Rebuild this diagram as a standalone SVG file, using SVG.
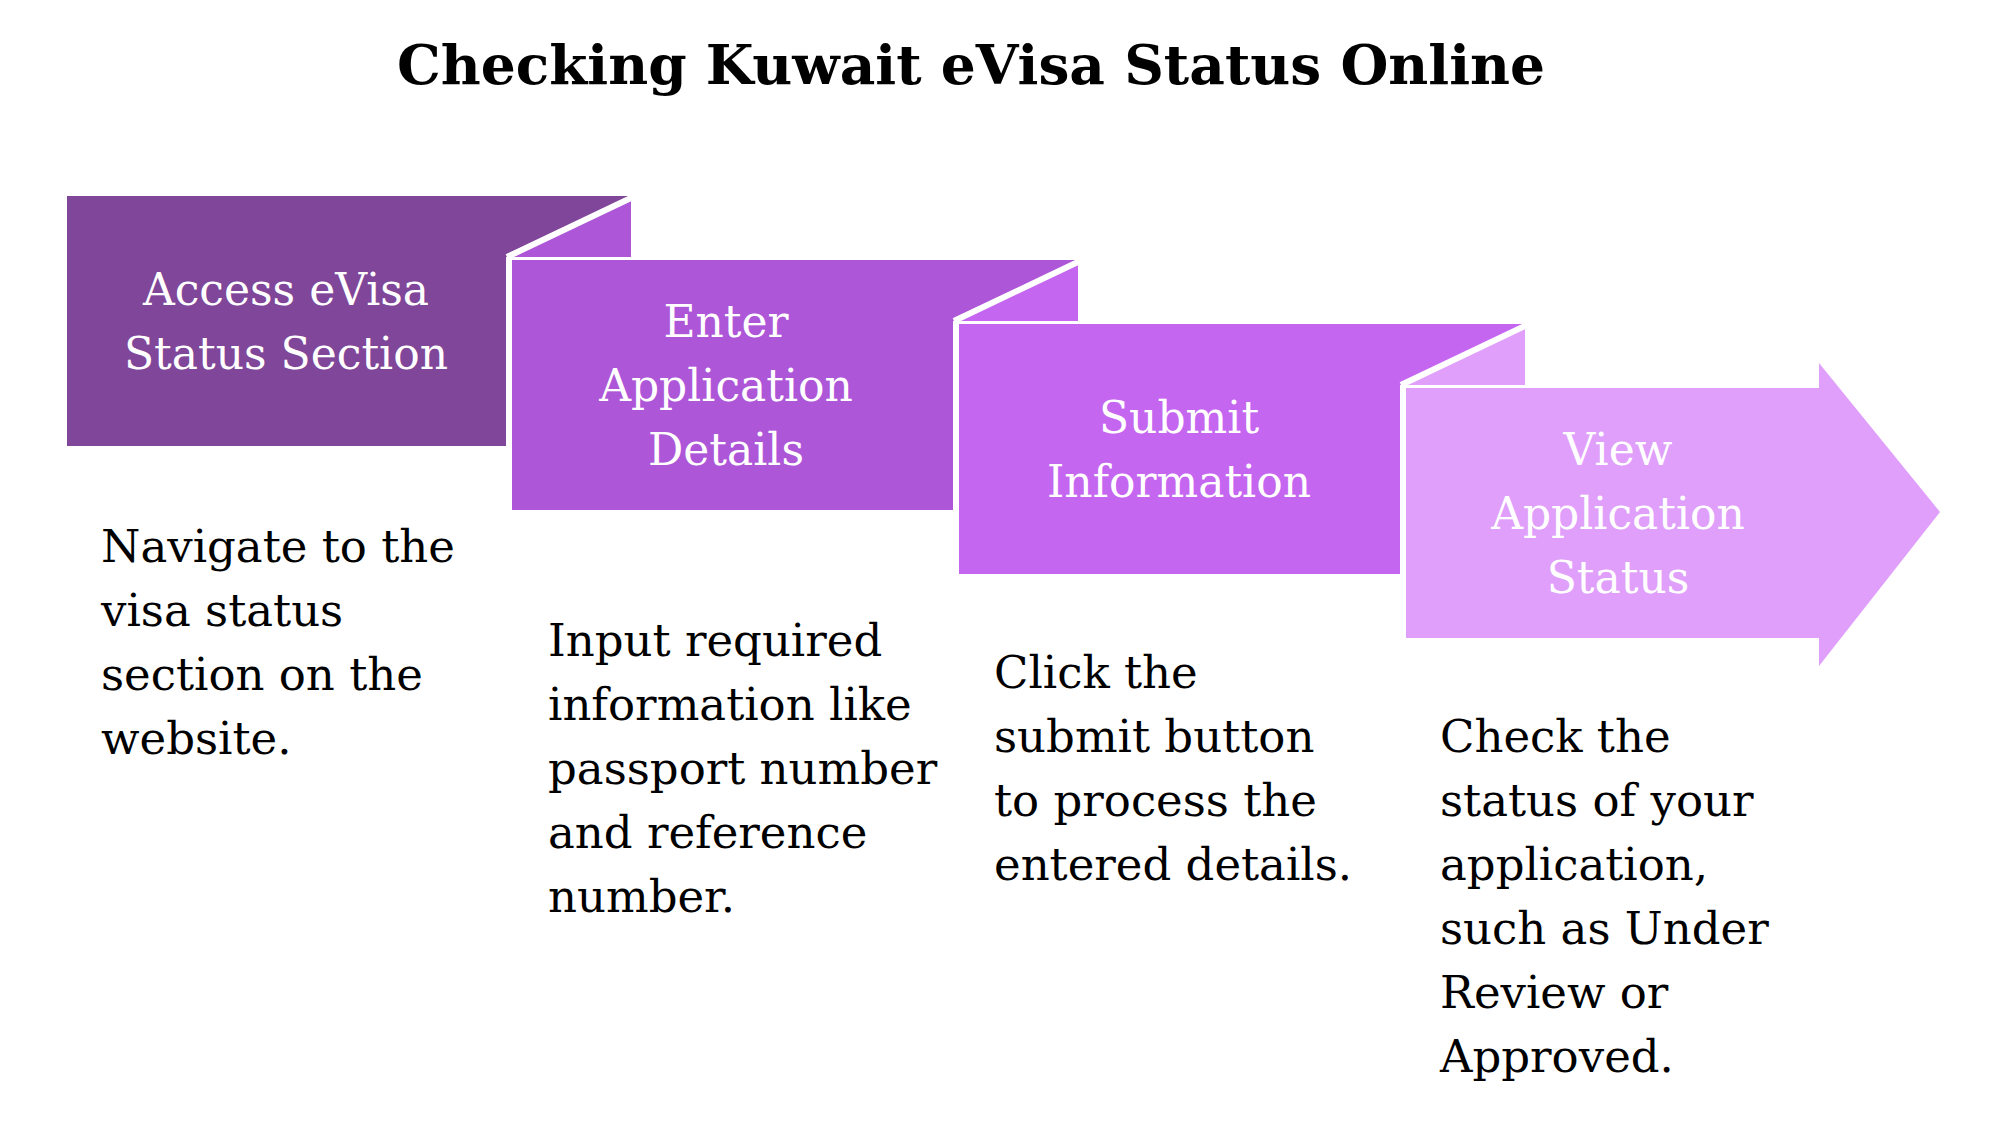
<svg xmlns="http://www.w3.org/2000/svg" width="1999" height="1129" viewBox="0 0 1999 1129">
<style>
.t{font-family:"DejaVu Serif","Liberation Serif",serif;font-weight:bold;font-size:55px;fill:#000;text-anchor:middle}
.l{font-family:"DejaVu Serif","Liberation Serif",serif;font-size:44px;fill:#fff;text-anchor:middle}
.d{font-family:"DejaVu Serif","Liberation Serif",serif;font-size:45px;fill:#000}
.s{stroke:#fff;stroke-width:6;stroke-linejoin:miter}
</style>
<rect width="1999" height="1129" fill="#fff"/>
<text class="t" x="971" y="84">Checking Kuwait eVisa Status Online</text>
<g id="connectors"></g>
<g id="step1">
<polygon points="67,196 631,196 507,254 507,446 67,446" fill="#7f4699"/>
<text class="l" x="286" y="305">Access eVisa</text>
<text class="l" x="286" y="369">Status Section</text>
<text class="d" x="101" y="562">Navigate to the</text>
<text class="d" x="101" y="626">visa status</text>
<text class="d" x="101" y="690">section on the</text>
<text class="d" x="101" y="754">website.</text>
</g>
<g id="step2">
<polygon points="510,257 631,199 631,257" fill="#ad56d8"/>
<polygon points="512,260 1078,260 954,318 954,510 512,510" fill="#ad56d8"/>
<line class="s" x1="507" y1="257" x2="633" y2="197"/>
<line class="s" x1="509" y1="257" x2="509" y2="512"/>
<text class="l" x="726" y="337">Enter</text>
<text class="l" x="726" y="401">Application</text>
<text class="l" x="726" y="465">Details</text>
<text class="d" x="548" y="656">Input required</text>
<text class="d" x="548" y="720">information like</text>
<text class="d" x="548" y="784">passport number</text>
<text class="d" x="548" y="848">and reference</text>
<text class="d" x="548" y="912">number.</text>
</g>
<g id="step3">
<polygon points="957,321 1078,263 1078,321" fill="#c566f1"/>
<polygon points="959,324 1525,324 1401,382 1401,574 959,574" fill="#c566f1"/>
<line class="s" x1="954" y1="321" x2="1080" y2="261"/>
<line class="s" x1="956" y1="321" x2="956" y2="576"/>
<text class="l" x="1179" y="433">Submit</text>
<text class="l" x="1179" y="497">Information</text>
<text class="d" x="994" y="688">Click the</text>
<text class="d" x="994" y="752">submit button</text>
<text class="d" x="994" y="816">to process the</text>
<text class="d" x="994" y="880">entered details.</text>
</g>
<g id="step4">
<polygon points="1404,385 1525,327 1525,385" fill="#df9ffa"/>
<polygon points="1406,388 1819,388 1819,363 1940,512 1819,666 1819,638 1406,638" fill="#df9ffa"/>
<line class="s" x1="1401" y1="385" x2="1527" y2="325"/>
<line class="s" x1="1403" y1="385" x2="1403" y2="640"/>
<text class="l" x="1618" y="465">View</text>
<text class="l" x="1618" y="529">Application</text>
<text class="l" x="1618" y="593">Status</text>
<text class="d" x="1440" y="752">Check the</text>
<text class="d" x="1440" y="816">status of your</text>
<text class="d" x="1440" y="880">application,</text>
<text class="d" x="1440" y="944">such as Under</text>
<text class="d" x="1440" y="1008">Review or</text>
<text class="d" x="1440" y="1072">Approved.</text>
</g>
</svg>
